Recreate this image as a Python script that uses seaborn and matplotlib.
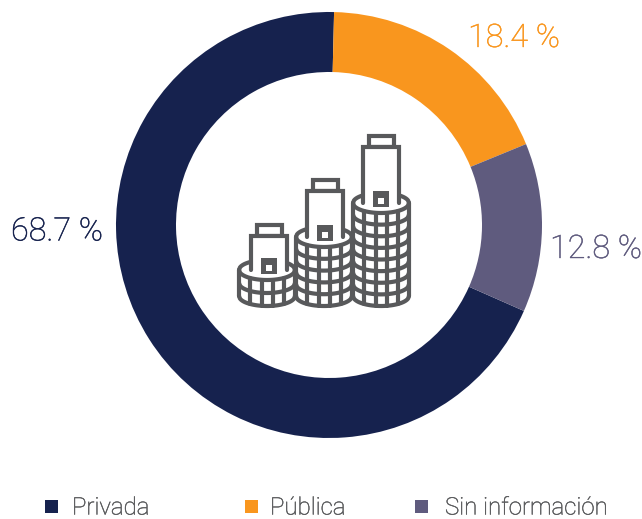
import numpy as np
import matplotlib
matplotlib.use("Agg")
import matplotlib.pyplot as plt
import matplotlib.patheffects as pe
from matplotlib.patches import Rectangle
import seaborn as sns

categorias = ["Privada", "Pública", "Sin información"]
valores = [68.7, 18.4, 12.8]
etiquetas = ["68.7 %", "18.4 %", "12.8 %"]
colores = ["#16224e", "#f9961e", "#5f5b7e"]
gris = "#58595b"

sns.set_theme(style="white")
plt.rcParams["font.family"] = ["Roboto", "DejaVu Sans"]

fig = plt.figure(figsize=(6.42, 5.19), dpi=100)

# donut
ax = fig.add_axes([0, 0, 1, 1])
ax.pie(valores, colors=sns.color_palette(colores), startangle=-23.8, counterclock=False,
       center=(329, 519 - 225), radius=213, wedgeprops=dict(width=60, linewidth=0))
ax.set_xlim(0, 642)
ax.set_ylim(0, 519)
ax.axis("off")

# capa en pixeles para icono y textos
capa = fig.add_axes([0, 0, 1, 1])
capa.set_xlim(0, 642)
capa.set_ylim(519, 0)
capa.axis("off")
capa.patch.set_alpha(0)

LW = 3.0


def moneda(cx, top, bottom, filas, a=28.0, b=10.0):
    # columna de monedas con su rejilla
    t = np.linspace(-1, 1, 60)
    xs = cx + a * t
    curva = b * np.sqrt(1 - t ** 2)
    capa.fill_between(xs, top - curva, bottom + curva, color="white", zorder=3, linewidth=0)
    capa.plot(xs, top - curva, color=gris, lw=LW, zorder=4)
    capa.plot(xs, bottom + curva, color=gris, lw=LW, zorder=4)
    capa.plot([cx - a, cx - a], [top, bottom], color=gris, lw=LW, zorder=4)
    capa.plot([cx + a, cx + a], [top, bottom], color=gris, lw=LW, zorder=4)
    paso = (bottom - top) / filas
    for k in range(filas):
        capa.plot(xs, top + k * paso + curva, color=gris, lw=LW, zorder=4)
    for dx in [-17, -5.5, 5.5, 17]:
        d = b * np.sqrt(1 - (dx / a) ** 2)
        capa.plot([cx + dx, cx + dx], [top + d, bottom + d], color=gris, lw=LW, zorder=4)


def frasco(cx, top, lid_top, base_top, base_bottom, ancho=18, tapa=12.5, cuad=8):
    capa.add_patch(Rectangle((cx - tapa, lid_top), 2 * tapa, top - lid_top, fc="white", ec=gris, lw=LW, zorder=5))
    fin = base_bottom - 4
    capa.fill_between([cx - ancho, cx + ancho], top, fin, color="white", zorder=5, linewidth=0)
    capa.plot([cx - ancho, cx - ancho, cx + ancho, cx + ancho], [fin, top, top, fin], color=gris, lw=LW, zorder=5,
              solid_joinstyle="miter")
    capa.add_patch(Rectangle((cx - cuad, base_top), 2 * cuad, base_bottom - base_top, fc=gris, ec="none", zorder=6))
    capa.add_patch(Rectangle((cx - 3, base_bottom - 9), 6, 6, fc="white", ec="none", zorder=7))


def texto(x, y, s, color, size):
    # un trazo fino para acercar el peso de la letra
    capa.text(x, y, s, color=color, fontsize=size, fontweight="light", va="center", ha="left",
              path_effects=[pe.withStroke(linewidth=0.3, foreground=color)])


moneda(267, 270, 296, 2)
frasco(269, 236, 225, 258, 274)
moneda(324, 237, 296, 5)
frasco(325, 191, 180, 225, 241)
moneda(381, 203, 296, 8)
frasco(381, 147, 136, 191, 207)

# textos de porcentaje
texto(11, 232, etiquetas[0], colores[0], 23.3)
texto(468, 38.5, etiquetas[1], colores[1], 23.3)
texto(550, 249.5, etiquetas[2], colores[2], 23.3)

# leyenda
cuadros = [45, 245, 415]
textos = [72, 270, 445]
for i in range(3):
    capa.add_patch(Rectangle((cuadros[i], 500), 13, 13, fc=colores[i], ec="none"))
    texto(textos[i], 508, categorias[i], gris, 17.3)

fig.savefig("out.png", dpi=100, facecolor="white")
